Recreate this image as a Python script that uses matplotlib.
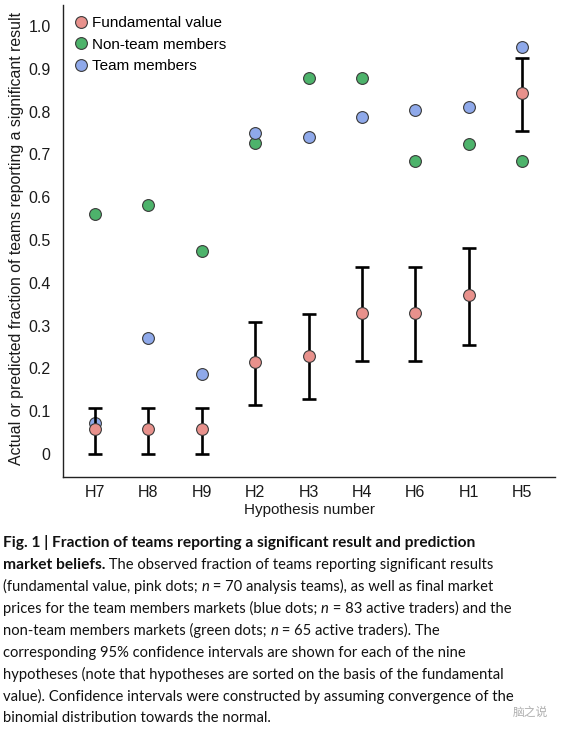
import matplotlib.pyplot as plt
import numpy as np

# hypotheses, sorted by fundamental value
hypotheses = ['H7', 'H8', 'H9', 'H2', 'H3', 'H4', 'H6', 'H1', 'H5']
fundamental = [0.057, 0.057, 0.057, 0.214, 0.229, 0.329, 0.329, 0.371, 0.843]
ci_low = [0.0, 0.0, 0.0, 0.114, 0.128, 0.216, 0.216, 0.255, 0.755]
ci_high = [0.108, 0.108, 0.108, 0.309, 0.326, 0.438, 0.438, 0.482, 0.926]
non_team = [0.560, 0.582, 0.474, 0.727, 0.879, 0.879, 0.684, 0.725, 0.684]
team = [0.072, 0.272, 0.186, 0.751, 0.741, 0.787, 0.804, 0.812, 0.951]
yticks = [0, 0.1, 0.2, 0.3, 0.4, 0.5, 0.6, 0.7, 0.8, 0.9, 1.0]
ytick_labels = ['0', '0.1', '0.2', '0.3', '0.4', '0.5', '0.6', '0.7', '0.8', '0.9', '1.0']

c_pink = '#E8918C'
c_green = '#4DB36B'
c_blue = '#8FA9EA'
edge = '#3a3a3a'

plt.rcParams['font.family'] = ['Liberation Sans', 'DejaVu Sans']

fig = plt.figure(figsize=(5.63, 7.30), dpi=100)
ax = fig.add_axes([0.112, 0.3466, 0.874, 0.6464])

x = np.arange(len(hypotheses))
ms = 8.5
ax.plot(x, non_team, 'o', ms=ms, color=c_green, mec=edge, mew=0.8, ls='none', zorder=3, label='Non-team members')
ax.plot(x, team, 'o', ms=ms, color=c_blue, mec=edge, mew=0.8, ls='none', zorder=3, label='Team members')
yerr = [np.array(fundamental) - np.array(ci_low), np.array(ci_high) - np.array(fundamental)]
ax.errorbar(x, fundamental, yerr=yerr, fmt='none', ecolor='black', elinewidth=1.9, capsize=4.8, capthick=1.9, zorder=4)
ax.plot(x, fundamental, 'o', ms=ms, color=c_pink, mec=edge, mew=0.8, ls='none', zorder=5, label='Fundamental value')

ax.set_xlim(-0.6, 8.62)
ax.set_ylim(-0.054, 1.049)
ax.set_xticks(x)
ax.set_xticklabels(hypotheses)
ax.set_yticks(yticks)
ax.set_yticklabels(ytick_labels)
ax.tick_params(axis='both', length=0, labelsize=11.5, colors='#1a1a1a')
ax.tick_params(axis='y', pad=9)
ax.tick_params(axis='x', pad=6)
for s in ['top', 'right']:
    ax.spines[s].set_visible(False)
for s in ['left', 'bottom']:
    ax.spines[s].set_linewidth(1.0)
    ax.spines[s].set_color('#222222')

ax.set_xlabel('Hypothesis number', fontsize=11, labelpad=2, color='#1a1a1a')
ax.set_ylabel('Actual or predicted fraction of teams reporting a significant result', fontsize=11.4, color='#1a1a1a')
ax.yaxis.set_label_coords(-0.08, 0.505)

h, l = ax.get_legend_handles_labels()
order = [2, 0, 1]
ax.legend([h[i] for i in order], [l[i] for i in order], loc='upper left', frameon=False,
          fontsize=11, handletextpad=-0.1, labelspacing=0.5, borderaxespad=0.0,
          handlelength=1.6, bbox_to_anchor=(0.0, 0.99))

# caption, written line by line: (text, weight, style)
caption = [
    [('Fig. 1 | Fraction of teams reporting a significant result and prediction', 'bold', 'normal')],
    [('market beliefs.', 'bold', 'normal'), (' The observed fraction of teams reporting significant results', 'normal', 'normal')],
    [('(fundamental value, pink dots; ', 'normal', 'normal'), ('n', 'normal', 'italic'), (' = 70 analysis teams), as well as final market', 'normal', 'normal')],
    [('prices for the team members markets (blue dots; ', 'normal', 'normal'), ('n', 'normal', 'italic'), (' = 83 active traders) and the', 'normal', 'normal')],
    [('non-team members markets (green dots; ', 'normal', 'normal'), ('n', 'normal', 'italic'), (' = 65 active traders). The', 'normal', 'normal')],
    [('corresponding 95% confidence intervals are shown for each of the nine', 'normal', 'normal')],
    [('hypotheses (note that hypotheses are sorted on the basis of the fundamental', 'normal', 'normal')],
    [('value). Confidence intervals were constructed by assuming convergence of the', 'normal', 'normal')],
    [('binomial distribution towards the normal.', 'normal', 'normal')],
]
renderer = fig.canvas.get_renderer()
W, H = 563.0, 730.0
y0 = 543.0
dy = 21.9
for i, line in enumerate(caption):
    xpos = 3.0
    ypix = y0 + i * dy
    for txt, wt, st in line:
        fs = 11.2 if wt == 'bold' else 10.6
        t = fig.text(xpos / W, 1 - ypix / H, txt, fontsize=fs, family=['Lato', 'DejaVu Sans'],
                     weight=wt, style=st, va='center', ha='left', color='#111111')
        bb = t.get_window_extent(renderer=renderer)
        xpos += bb.width

# watermark
fig.text(530 / W, 1 - 712 / H, '脑之说', fontsize=8.5, family=['Noto Sans CJK SC'],
         color='#b0b0b0', ha='center', va='center')

fig.savefig('out.png', dpi=100)
